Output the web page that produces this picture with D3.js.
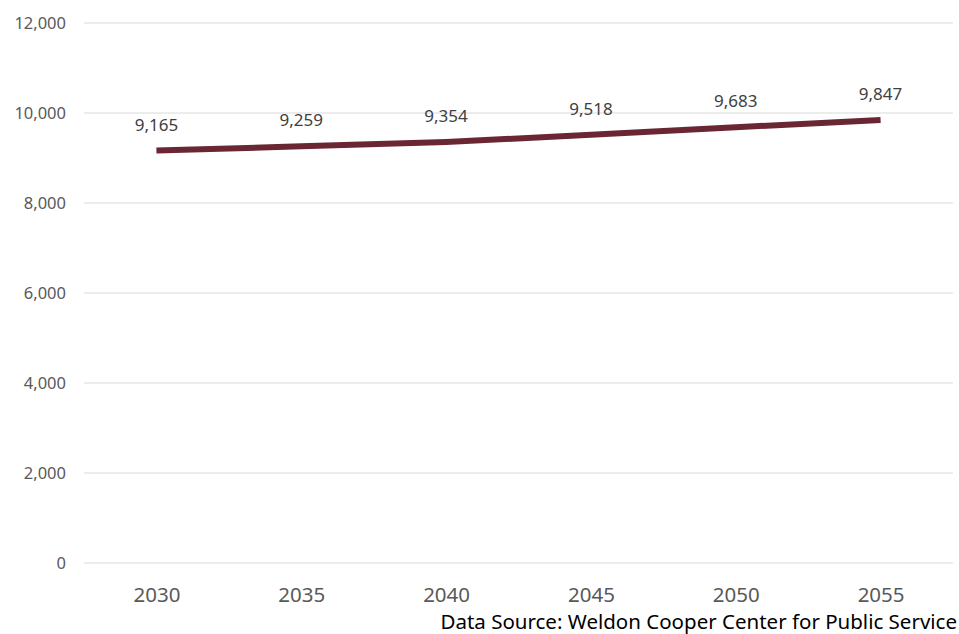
<!DOCTYPE html>
<html lang="en">
<head>
    <meta charset="UTF-8">
    <title>Population Projection</title>
    <script src="https://d3js.org/d3.v7.min.js"></script>
    <style>
        body { margin: 0; background: #fff; }
        text { font-family: "Noto Sans", "Open Sans", sans-serif; }
    </style>
</head>
<body>
<script>
    // data
    var years = ["2030", "2035", "2040", "2045", "2050", "2055"];
    var population = [9165, 9259, 9354, 9518, 9683, 9847];
    var yTicks = [0, 2000, 4000, 6000, 8000, 10000, 12000];

    var W = 959, H = 634;
    var margin = {top: 23, right: 6, bottom: 71, left: 84},
        width = W - margin.left - margin.right,
        height = H - margin.top - margin.bottom;

    var svg = d3.select("body").append("svg")
        .attr("width", W)
        .attr("height", H);

    var g = svg.append("g")
        .attr("transform", "translate(" + margin.left + "," + margin.top + ")");

    var x = d3.scalePoint()
        .domain(years)
        .range([0, width])
        .padding(0.5);

    var y = d3.scaleLinear()
        .domain([0, 12000])
        .range([height, 0]);

    // gridlines
    g.selectAll(".grid")
        .data(yTicks)
        .enter()
        .append("line")
        .attr("x1", 0)
        .attr("x2", width)
        .attr("y1", function(d) { return y(d); })
        .attr("y2", function(d) { return y(d); })
        .style("stroke", "#d9d9d9")
        .style("stroke-width", 1);

    // y axis labels
    var yAxis = g.append("g")
        .call(d3.axisLeft(y).tickValues(yTicks).tickSize(0).tickPadding(18).tickFormat(d3.format(",")));
    yAxis.select(".domain").remove();
    yAxis.selectAll("text")
        .style("font-size", "16.5px")
        .style("fill", "#595959");

    // x axis labels
    var xAxis = g.append("g")
        .attr("transform", "translate(0," + height + ")")
        .call(d3.axisBottom(x).tickSize(0).tickPadding(24));
    xAxis.select(".domain").remove();
    xAxis.selectAll("text")
        .style("font-size", "20.5px")
        .style("fill", "#595959");

    // line
    var line = d3.line()
        .x(function(d, i) { return x(years[i]); })
        .y(function(d) { return y(d); });

    g.append("path")
        .datum(population)
        .attr("d", line)
        .style("fill", "none")
        .style("stroke", "#6b2634")
        .style("stroke-width", 6);

    // value labels
    g.selectAll(".lbl")
        .data(population)
        .enter()
        .append("text")
        .attr("x", function(d, i) { return x(years[i]); })
        .attr("y", function(d) { return y(d) - 20; })
        .attr("text-anchor", "middle")
        .style("font-size", "17px")
        .style("fill", "#404040")
        .text(function(d) { return d3.format(",")(d); });

    // source note
    svg.append("text")
        .attr("x", 957)
        .attr("y", 629)
        .attr("text-anchor", "end")
        .style("font-size", "20.5px")
        .style("fill", "#000")
        .text("Data Source: Weldon Cooper Center for Public Service");
</script>
</body>
</html>
